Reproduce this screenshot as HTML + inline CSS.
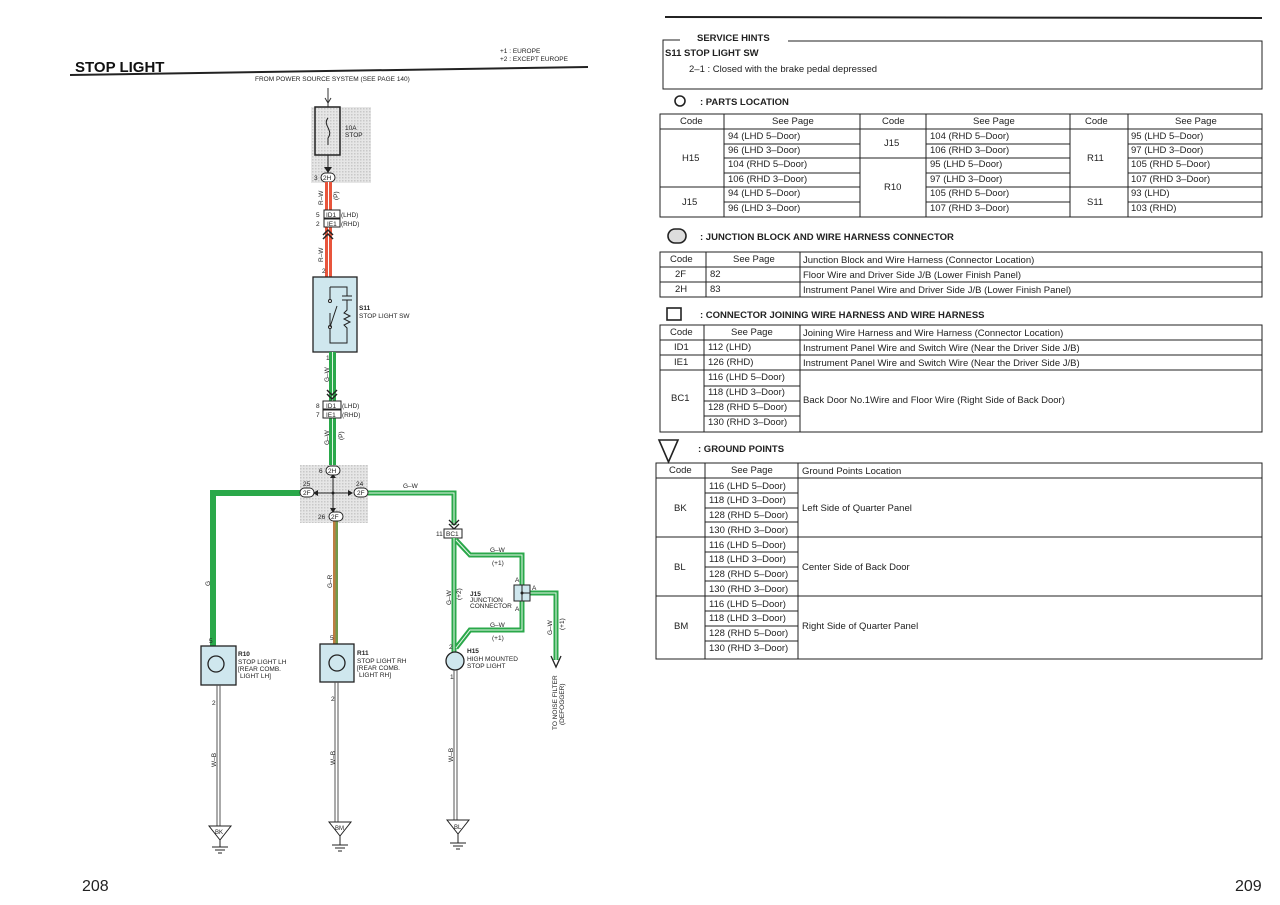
<!DOCTYPE html>
<html><head><meta charset="utf-8"><style>
html,body{margin:0;padding:0;background:#fff;}
svg{display:block;font-family:"Liberation Sans",sans-serif;}
.t{font-size:9.5px;fill:#222}
.s{font-size:6.5px;fill:#222}
.b{font-weight:bold}
</style></head><body>
<svg width="1280" height="905" viewBox="0 0 1280 905">
<defs>
<pattern id="dots" width="3" height="3" patternUnits="userSpaceOnUse"><rect width="3" height="3" fill="#e6e6e6"/><rect width="1.5" height="1.5" fill="#c8c8c8"/></pattern>
</defs>
<!-- LEFT PAGE -->
<text x="75" y="72" font-size="15" class="b" fill="#111">STOP LIGHT</text>
<line x1="70" y1="75" x2="588" y2="67" stroke="#222" stroke-width="2"/>
<text x="500" y="53" class="s">+1 : EUROPE</text>
<text x="500" y="61" class="s">+2 : EXCEPT EUROPE</text>
<text x="255" y="81" class="s">FROM POWER SOURCE SYSTEM (SEE PAGE 140)</text>
<!-- fuse -->
<line x1="328" y1="88" x2="328" y2="107" stroke="#333"/>
<path d="M325 98 L328 103 L331 98" fill="none" stroke="#333"/>
<rect x="311" y="107" width="60" height="76" fill="url(#dots)"/>
<rect x="315" y="107" width="25" height="48" fill="none" stroke="#222" stroke-width="1.5"/>
<path d="M328 118 C322 125,334 130,328 138 L328 145" fill="none" stroke="#222"/>
<text x="345" y="130" class="s">10A</text><text x="345" y="137" class="s">STOP</text>
<line x1="328" y1="155" x2="328" y2="172" stroke="#222"/>
<path d="M324 167 L328 173 L332 167 Z" fill="#222"/>
<rect x="321" y="173" width="14" height="9" rx="4.5" fill="#fff" stroke="#222"/>
<text x="323" y="180" class="s">2H</text><text x="314" y="180" class="s">3</text>
<!-- red wire -->
<rect x="325" y="182" width="7" height="96" fill="#e8553c"/>
<line x1="328.5" y1="182" x2="328.5" y2="278" stroke="#fff" stroke-width="1"/>
<rect x="324" y="210" width="16" height="8" fill="#fff" stroke="#222"/><rect x="324" y="219" width="16" height="8" fill="#fff" stroke="#222"/>
<text x="326" y="217" class="s">ID1</text><text x="327" y="226" class="s">IE1</text>
<text x="316" y="217" class="s">5</text><text x="316" y="226" class="s">2</text>
<text x="341" y="217" class="s">(LHD)</text><text x="341" y="226" class="s">(RHD)</text>
<path d="M323 235 L328 230 L333 235 M323 239 L328 234 L333 239" fill="none" stroke="#222" stroke-width="1.5"/>
<text class="s" transform="translate(323,205) rotate(-90)">R–W</text>
<text class="s" transform="translate(338,200) rotate(-90)">(P)</text>
<text class="s" transform="translate(323,262) rotate(-90)">R–W</text>
<text x="322" y="273" class="s">2</text>
<!-- switch -->
<rect x="313" y="277" width="44" height="75" fill="#cfe7ee" stroke="#222" stroke-width="1.3"/>
<path d="M330 287 L330 300 M330 313 L330 330 M330 287 L347 287 L347 296 M342 296 L352 296 M342 300 L352 300 M347 300 L347 310 L344 313 L350 316 L344 319 L350 322 L344 325 L347 328 L347 343 L330 343 L330 330" fill="none" stroke="#222"/>
<circle cx="330" cy="301" r="1.5" fill="#fff" stroke="#222"/><circle cx="330" cy="327" r="1.5" fill="#fff" stroke="#222"/>
<line x1="330" y1="327" x2="337" y2="306" stroke="#222"/>
<text x="359" y="310" class="s b">S11</text><text x="359" y="318" class="s">STOP LIGHT SW</text>
<!-- green main -->
<rect x="329" y="352" width="7" height="115" fill="#2aa84a"/>
<line x1="332.5" y1="352" x2="332.5" y2="467" stroke="#dff5e3" stroke-width="1"/>
<text x="326" y="360" class="s">1</text>
<path d="M327 390 L332 395 L337 390 M327 394 L332 399 L337 394" fill="none" stroke="#222" stroke-width="1.5"/>
<rect x="323" y="401" width="18" height="8" fill="#fff" stroke="#222"/><rect x="323" y="410" width="18" height="8" fill="#fff" stroke="#222"/>
<text x="326" y="408" class="s">ID1</text><text x="326" y="417" class="s">IE1</text>
<text x="316" y="408" class="s">8</text><text x="316" y="417" class="s">7</text>
<text x="342" y="408" class="s">(LHD)</text><text x="342" y="417" class="s">(RHD)</text>
<text class="s" transform="translate(329,445) rotate(-90)">G–W</text>
<text class="s" transform="translate(343,440) rotate(-90)">(P)</text>
<text class="s" transform="translate(329,382) rotate(-90)">G–W</text>
<!-- junction block -->
<rect x="300" y="465" width="68" height="58" fill="url(#dots)"/>
<!-- left G -->
<path d="M300 493 L213 493 L213 646" fill="none" stroke="#2aa84a" stroke-width="6"/>
<!-- G-R -->
<rect x="333" y="521" width="5" height="123" fill="#9a8a4a"/>
<line x1="334" y1="521" x2="334" y2="644" stroke="#e0703a" stroke-width="1"/>
<line x1="337" y1="521" x2="337" y2="644" stroke="#4aa84a" stroke-width="1"/>
<!-- right G-W -->
<path d="M368 493 L454 493 L454 525" fill="none" stroke="#2aa84a" stroke-width="5"/>
<path d="M368 493 L454 493 L454 525" fill="none" stroke="#e8f6ea" stroke-width="1"/>
<path d="M449 520 L454 525 L459 520 M449 524 L454 529 L459 524" fill="none" stroke="#222" stroke-width="1.3"/>
<text x="403" y="488" class="s">G–W</text>
<path d="M333 478 L333 508 M316 493 L350 493" stroke="#222"/>
<circle cx="333" cy="493" r="1.5" fill="#222"/>
<path d="M330 478 L333 474 L336 478 Z M318 490 L313 493 L318 496 Z M348 490 L353 493 L348 496 Z M330 508 L333 513 L336 508 Z" fill="#222"/>
<rect x="326" y="466" width="14" height="9" rx="4.5" fill="#fff" stroke="#222"/><text x="328" y="473" class="s">2H</text><text x="319" y="473" class="s">6</text>
<rect x="300" y="488" width="14" height="9" rx="4.5" fill="#fff" stroke="#222"/><text x="303" y="495" class="s">2F</text><text x="303" y="486" class="s">25</text>
<rect x="354" y="488" width="14" height="9" rx="4.5" fill="#fff" stroke="#222"/><text x="357" y="495" class="s">2F</text><text x="356" y="486" class="s">24</text>
<rect x="329" y="512" width="14" height="9" rx="4.5" fill="#fff" stroke="#222"/><text x="331" y="519" class="s">2F</text><text x="318" y="519" class="s">26</text>
<text class="s" transform="translate(210,586) rotate(-90)">G</text>
<text class="s" transform="translate(332,588) rotate(-90)">G–R</text>
<!-- BC1 -->
<rect x="444" y="529" width="18" height="9" fill="#fff" stroke="#222"/><text x="446" y="536" class="s">BC1</text><text x="436" y="536" class="s">11</text>
<g fill="none" stroke="#2aa84a" stroke-width="5">
<path d="M454 538 L454 652"/>
<path d="M456 540 L470 555 L522 555 L522 585"/>
<path d="M522 601 L522 630 L470 630 L456 648"/>
<path d="M530 593 L556 593 L556 660"/>
</g>
<g fill="none" stroke="#e8f6ea" stroke-width="1">
<path d="M454 538 L454 652"/>
<path d="M456 540 L470 555 L522 555 L522 585"/>
<path d="M522 601 L522 630 L470 630 L456 648"/>
<path d="M530 593 L556 593 L556 660"/>
</g>
<path d="M551 656 L556 667 L561 656" fill="none" stroke="#222" stroke-width="1.3"/>
<rect x="514" y="585" width="16" height="16" fill="#cfe7ee" stroke="#222"/>
<path d="M522 585 L522 601 M522 593 L530 593" stroke="#222"/><circle cx="522" cy="593" r="1.5" fill="#222"/>
<text x="515" y="582" class="s">A</text><text x="532" y="590" class="s">A</text><text x="515" y="611" class="s">A</text>
<text x="470" y="596" class="s b">J15</text><text x="470" y="602" class="s">JUNCTION</text><text x="470" y="608" class="s">CONNECTOR</text>
<text x="490" y="552" class="s">G–W</text><text x="492" y="565" class="s">(+1)</text>
<text x="490" y="627" class="s">G–W</text><text x="492" y="640" class="s">(+1)</text>
<text class="s" transform="translate(451,605) rotate(-90)">G–W</text>
<text class="s" transform="translate(461,600) rotate(-90)">(+2)</text>
<text class="s" transform="translate(552,635) rotate(-90)">G–W</text>
<text class="s" transform="translate(564,630) rotate(-90)">(+1)</text>
<text class="s" transform="translate(557,730) rotate(-90)">TO NOISE FILTER</text>
<text class="s" transform="translate(564,725) rotate(-90)">(DEFOGGER)</text>
<!-- lamps -->
<rect x="201" y="646" width="35" height="39" fill="#cfe7ee" stroke="#222" stroke-width="1.3"/>
<circle cx="216" cy="664" r="8" fill="none" stroke="#222" stroke-width="1.3"/>
<text x="209" y="643" class="s">5</text>
<text x="238" y="656" class="s b">R10</text><text x="238" y="664" class="s">STOP LIGHT LH</text><text x="238" y="671" class="s">[REAR COMB.</text><text x="240" y="678" class="s">LIGHT LH]</text>
<rect x="320" y="644" width="34" height="38" fill="#cfe7ee" stroke="#222" stroke-width="1.3"/>
<circle cx="337" cy="663" r="8" fill="none" stroke="#222" stroke-width="1.3"/>
<text x="330" y="640" class="s">5</text>
<text x="357" y="655" class="s b">R11</text><text x="357" y="663" class="s">STOP LIGHT RH</text><text x="357" y="670" class="s">[REAR COMB.</text><text x="359" y="677" class="s">LIGHT RH]</text>
<circle cx="455" cy="661" r="9" fill="#cfe7ee" stroke="#222" stroke-width="1.3"/>
<text x="449" y="649" class="s">2</text>
<text x="467" y="653" class="s b">H15</text><text x="467" y="661" class="s">HIGH MOUNTED</text><text x="467" y="668" class="s">STOP LIGHT</text>
<!-- W-B wires -->
<g stroke="#555" stroke-width="1">
<path d="M217 685 L217 826 M220 685 L220 826"/>
<path d="M335 682 L335 822 M338 682 L338 822"/>
<path d="M454 670 L454 820 M457 670 L457 820"/>
</g>
<text x="212" y="705" class="s">2</text><text x="331" y="701" class="s">2</text><text x="450" y="679" class="s">1</text>
<text class="s" transform="translate(216,767) rotate(-90)">W–B</text>
<text class="s" transform="translate(335,765) rotate(-90)">W–B</text>
<text class="s" transform="translate(453,762) rotate(-90)">W–B</text>
<g fill="#fff" stroke="#222" stroke-width="1">
<path d="M209 826 L231 826 L220 840 Z"/><path d="M329 822 L351 822 L340 836 Z"/><path d="M447 820 L469 820 L458 834 Z"/>
</g>
<text x="215" y="834" font-size="6" fill="#222">BK</text><text x="335" y="830" font-size="6" fill="#222">BM</text><text x="454" y="829" font-size="6" fill="#222">BL</text>
<g stroke="#222">
<path d="M220 840 L220 847 M212 847 L228 847 M215 850 L225 850 M218 853 L222 853"/>
<path d="M340 836 L340 845 M332 845 L348 845 M335 848 L345 848 M338 851 L342 851"/>
<path d="M458 834 L458 843 M450 843 L466 843 M453 846 L463 846 M456 849 L460 849"/>
</g>
<text x="82" y="891" font-size="16" fill="#222">208</text>
<!-- RIGHT PAGE -->
<line x1="665" y1="17" x2="1262" y2="18" stroke="#222" stroke-width="2"/>
<path d="M680 40 L663 40 L663 89 L1262 89 L1262 41 L788 41" fill="none" stroke="#222"/>
<text x="697" y="41" class="t b" font-size="10">SERVICE HINTS</text>
<text x="665" y="56" class="t b" font-size="10">S11  STOP LIGHT SW</text>
<text x="689" y="72" class="t">2–1 : Closed with the brake pedal depressed</text>
<circle cx="680" cy="101" r="5" fill="none" stroke="#222" stroke-width="1.6"/>
<text x="700" y="105" class="t b" font-size="10">: PARTS LOCATION</text>
<g fill="none" stroke="#222" stroke-width="1">
<rect x="660" y="114" width="602" height="103"/>
<path d="M724 114V217 M860 114V217 M926 114V217 M1070 114V217 M1128 114V217 M660 129H1262"/>
<path d="M724 144H860 M724 158H860 M724 173H860 M660 187H860 M724 202H860"/>
<path d="M926 144H1070 M860 158H1070 M926 173H1070 M926 187H1070 M926 202H1070"/>
<path d="M1128 144H1262 M1128 158H1262 M1128 173H1262 M1070 187H1262 M1128 202H1262"/>
</g>
<g class="t">
<text x="680" y="124">Code</text><text x="772" y="124">See Page</text><text x="882" y="124">Code</text><text x="973" y="124">See Page</text><text x="1085" y="124">Code</text><text x="1175" y="124">See Page</text>
<text x="728" y="139">94 (LHD 5–Door)</text><text x="728" y="153">96 (LHD 3–Door)</text><text x="728" y="167">104 (RHD 5–Door)</text><text x="728" y="182">106 (RHD 3–Door)</text><text x="728" y="196">94 (LHD 5–Door)</text><text x="728" y="211">96 (LHD 3–Door)</text>
<text x="682" y="161">H15</text><text x="682" y="205">J15</text>
<text x="884" y="146">J15</text><text x="884" y="190">R10</text>
<text x="930" y="139">104 (RHD 5–Door)</text><text x="930" y="153">106 (RHD 3–Door)</text><text x="930" y="167">95 (LHD 5–Door)</text><text x="930" y="182">97 (LHD 3–Door)</text><text x="930" y="196">105 (RHD 5–Door)</text><text x="930" y="211">107 (RHD 3–Door)</text>
<text x="1087" y="161">R11</text><text x="1087" y="205">S11</text>
<text x="1131" y="139">95 (LHD 5–Door)</text><text x="1131" y="153">97 (LHD 3–Door)</text><text x="1131" y="167">105 (RHD 5–Door)</text><text x="1131" y="182">107 (RHD 3–Door)</text><text x="1131" y="196">93 (LHD)</text><text x="1131" y="211">103 (RHD)</text>
</g>
<rect x="668" y="229" width="18" height="14" rx="7" fill="#ddd" stroke="#222" stroke-width="1.6"/>
<text x="700" y="240" class="t b" font-size="10">: JUNCTION BLOCK AND WIRE HARNESS CONNECTOR</text>
<g fill="none" stroke="#222"><rect x="660" y="252" width="602" height="45"/><path d="M706 252V297 M800 252V297 M660 267H1262 M660 282H1262"/></g>
<g class="t" font-size="9">
<text x="670" y="262">Code</text><text x="733" y="262">See Page</text><text x="803" y="263">Junction Block and Wire Harness (Connector Location)</text>
<text x="675" y="277">2F</text><text x="710" y="277">82</text><text x="803" y="278">Floor Wire and Driver Side J/B (Lower Finish Panel)</text>
<text x="675" y="292">2H</text><text x="710" y="292">83</text><text x="803" y="293">Instrument Panel Wire and Driver Side J/B (Lower Finish Panel)</text>
</g>
<rect x="667" y="308" width="14" height="12" fill="none" stroke="#222" stroke-width="1.6"/>
<text x="700" y="318" class="t b" font-size="10">: CONNECTOR JOINING WIRE HARNESS AND WIRE HARNESS</text>
<g fill="none" stroke="#222"><rect x="660" y="325" width="602" height="107"/><path d="M704 325V432 M800 325V432 M660 340H1262 M660 355H1262 M660 370H1262 M704 386H800 M704 401H800 M704 416H800"/></g>
<g class="t" font-size="9">
<text x="670" y="335">Code</text><text x="731" y="335">See Page</text><text x="803" y="336">Joining Wire Harness and Wire Harness (Connector Location)</text>
<text x="674" y="350">ID1</text><text x="708" y="350">112 (LHD)</text><text x="803" y="351">Instrument Panel Wire and Switch Wire (Near the Driver Side J/B)</text>
<text x="674" y="365">IE1</text><text x="708" y="365">126 (RHD)</text><text x="803" y="366">Instrument Panel Wire and Switch Wire (Near the Driver Side J/B)</text>
<text x="671" y="401">BC1</text>
<text x="708" y="380">116 (LHD 5–Door)</text><text x="708" y="395">118 (LHD 3–Door)</text><text x="708" y="410">128 (RHD 5–Door)</text><text x="708" y="425">130 (RHD 3–Door)</text>
<text x="803" y="403">Back Door No.1Wire and Floor Wire (Right Side of Back Door)</text>
</g>
<path d="M659 440 L678 440 L668.5 462 Z" fill="none" stroke="#222" stroke-width="1.6"/>
<text x="698" y="452" class="t b" font-size="10">: GROUND POINTS</text>
<g fill="none" stroke="#222"><rect x="656" y="463" width="606" height="196"/><path d="M705 463V659 M798 463V659 M656 478H1262 M656 537H1262 M656 596H1262"/>
<path d="M705 493H798 M705 508H798 M705 522H798 M705 552H798 M705 567H798 M705 581H798 M705 611H798 M705 626H798 M705 641H798"/></g>
<g class="t" font-size="9">
<text x="669" y="473">Code</text><text x="731" y="473">See Page</text><text x="802" y="474">Ground Points Location</text>
<text x="674" y="511">BK</text><text x="674" y="570">BL</text><text x="674" y="629">BM</text>
<text x="802" y="511">Left Side of Quarter Panel</text><text x="802" y="570">Center Side of Back Door</text><text x="802" y="629">Right Side of Quarter Panel</text>
<text x="709" y="489">116 (LHD 5–Door)</text><text x="709" y="503">118 (LHD 3–Door)</text><text x="709" y="518">128 (RHD 5–Door)</text><text x="709" y="533">130 (RHD 3–Door)</text>
<text x="709" y="548">116 (LHD 5–Door)</text><text x="709" y="562">118 (LHD 3–Door)</text><text x="709" y="577">128 (RHD 5–Door)</text><text x="709" y="592">130 (RHD 3–Door)</text>
<text x="709" y="607">116 (LHD 5–Door)</text><text x="709" y="621">118 (LHD 3–Door)</text><text x="709" y="636">128 (RHD 5–Door)</text><text x="709" y="651">130 (RHD 3–Door)</text>
</g>
<text x="1235" y="891" font-size="16" fill="#222">209</text>
</svg>
</body></html>
